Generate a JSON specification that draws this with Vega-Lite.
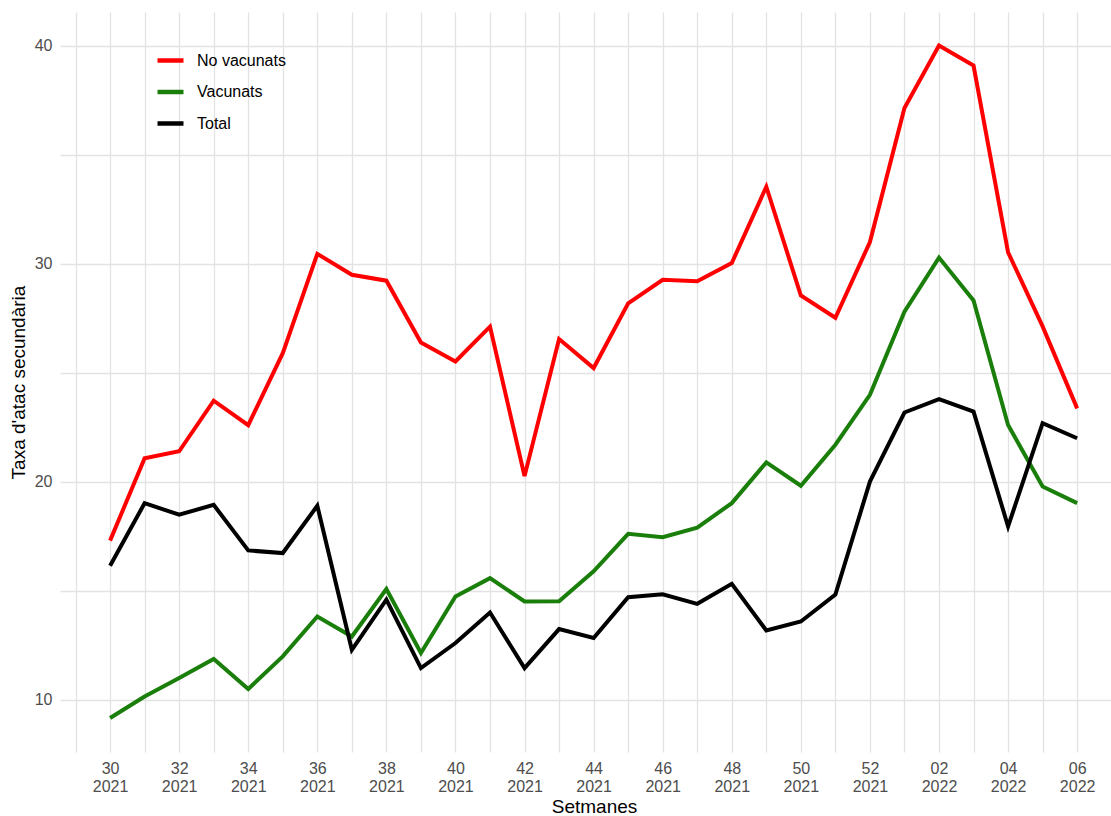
{
  "$schema": "https://vega.github.io/schema/vega-lite/v6.json",
  "autosize": {"type": "none"},
  "padding": {"left": 60, "top": 12, "right": 0, "bottom": 64},
  "width": 1051,
  "height": 740,
  "background": "white",
  "config": {
    "font": "Liberation Sans",
    "view": {"stroke": null},
    "axis": {"domain": false, "ticks": false, "gridColor": "#E3E3E3", "gridWidth": 1.3, "labelColor": "#4D4D4D", "labelFontSize": 16, "titleColor": "#000000", "titleFontSize": 19, "titleFontWeight": "normal"}
  },
  "data": {
    "values": [
      {"i": 0, "setmana": "30/2021", "grup": "No vacunats", "taxa": 17.3},
      {"i": 1, "setmana": "31/2021", "grup": "No vacunats", "taxa": 21.08},
      {"i": 2, "setmana": "32/2021", "grup": "No vacunats", "taxa": 21.4},
      {"i": 3, "setmana": "33/2021", "grup": "No vacunats", "taxa": 23.72},
      {"i": 4, "setmana": "34/2021", "grup": "No vacunats", "taxa": 22.6},
      {"i": 5, "setmana": "35/2021", "grup": "No vacunats", "taxa": 25.9},
      {"i": 6, "setmana": "36/2021", "grup": "No vacunats", "taxa": 30.46},
      {"i": 7, "setmana": "37/2021", "grup": "No vacunats", "taxa": 29.5},
      {"i": 8, "setmana": "38/2021", "grup": "No vacunats", "taxa": 29.23},
      {"i": 9, "setmana": "39/2021", "grup": "No vacunats", "taxa": 26.39},
      {"i": 10, "setmana": "40/2021", "grup": "No vacunats", "taxa": 25.52},
      {"i": 11, "setmana": "41/2021", "grup": "No vacunats", "taxa": 27.12},
      {"i": 12, "setmana": "42/2021", "grup": "No vacunats", "taxa": 20.26},
      {"i": 13, "setmana": "43/2021", "grup": "No vacunats", "taxa": 26.55},
      {"i": 14, "setmana": "44/2021", "grup": "No vacunats", "taxa": 25.22},
      {"i": 15, "setmana": "45/2021", "grup": "No vacunats", "taxa": 28.19},
      {"i": 16, "setmana": "46/2021", "grup": "No vacunats", "taxa": 29.27},
      {"i": 17, "setmana": "47/2021", "grup": "No vacunats", "taxa": 29.2},
      {"i": 18, "setmana": "48/2021", "grup": "No vacunats", "taxa": 30.04},
      {"i": 19, "setmana": "49/2021", "grup": "No vacunats", "taxa": 33.54},
      {"i": 20, "setmana": "50/2021", "grup": "No vacunats", "taxa": 28.55},
      {"i": 21, "setmana": "51/2021", "grup": "No vacunats", "taxa": 27.53},
      {"i": 22, "setmana": "52/2021", "grup": "No vacunats", "taxa": 31.0},
      {"i": 23, "setmana": "01/2022", "grup": "No vacunats", "taxa": 37.15},
      {"i": 24, "setmana": "02/2022", "grup": "No vacunats", "taxa": 40.02},
      {"i": 25, "setmana": "03/2022", "grup": "No vacunats", "taxa": 39.1},
      {"i": 26, "setmana": "04/2022", "grup": "No vacunats", "taxa": 30.53},
      {"i": 27, "setmana": "05/2022", "grup": "No vacunats", "taxa": 27.13},
      {"i": 28, "setmana": "06/2022", "grup": "No vacunats", "taxa": 23.37},
      {"i": 0, "setmana": "30/2021", "grup": "Vacunats", "taxa": 9.16},
      {"i": 1, "setmana": "31/2021", "grup": "Vacunats", "taxa": 10.15},
      {"i": 2, "setmana": "32/2021", "grup": "Vacunats", "taxa": 11.0},
      {"i": 3, "setmana": "33/2021", "grup": "Vacunats", "taxa": 11.87},
      {"i": 4, "setmana": "34/2021", "grup": "Vacunats", "taxa": 10.49},
      {"i": 5, "setmana": "35/2021", "grup": "Vacunats", "taxa": 11.99},
      {"i": 6, "setmana": "36/2021", "grup": "Vacunats", "taxa": 13.82},
      {"i": 7, "setmana": "37/2021", "grup": "Vacunats", "taxa": 12.9},
      {"i": 8, "setmana": "38/2021", "grup": "Vacunats", "taxa": 15.08},
      {"i": 9, "setmana": "39/2021", "grup": "Vacunats", "taxa": 12.14},
      {"i": 10, "setmana": "40/2021", "grup": "Vacunats", "taxa": 14.74},
      {"i": 11, "setmana": "41/2021", "grup": "Vacunats", "taxa": 15.58},
      {"i": 12, "setmana": "42/2021", "grup": "Vacunats", "taxa": 14.51},
      {"i": 13, "setmana": "43/2021", "grup": "Vacunats", "taxa": 14.52},
      {"i": 14, "setmana": "44/2021", "grup": "Vacunats", "taxa": 15.89},
      {"i": 15, "setmana": "45/2021", "grup": "Vacunats", "taxa": 17.61},
      {"i": 16, "setmana": "46/2021", "grup": "Vacunats", "taxa": 17.46},
      {"i": 17, "setmana": "47/2021", "grup": "Vacunats", "taxa": 17.9},
      {"i": 18, "setmana": "48/2021", "grup": "Vacunats", "taxa": 19.02},
      {"i": 19, "setmana": "49/2021", "grup": "Vacunats", "taxa": 20.89},
      {"i": 20, "setmana": "50/2021", "grup": "Vacunats", "taxa": 19.82},
      {"i": 21, "setmana": "51/2021", "grup": "Vacunats", "taxa": 21.7},
      {"i": 22, "setmana": "52/2021", "grup": "Vacunats", "taxa": 23.99},
      {"i": 23, "setmana": "01/2022", "grup": "Vacunats", "taxa": 27.81},
      {"i": 24, "setmana": "02/2022", "grup": "Vacunats", "taxa": 30.29},
      {"i": 25, "setmana": "03/2022", "grup": "Vacunats", "taxa": 28.32},
      {"i": 26, "setmana": "04/2022", "grup": "Vacunats", "taxa": 22.61},
      {"i": 27, "setmana": "05/2022", "grup": "Vacunats", "taxa": 19.78},
      {"i": 28, "setmana": "06/2022", "grup": "Vacunats", "taxa": 19.02},
      {"i": 0, "setmana": "30/2021", "grup": "Total", "taxa": 16.15},
      {"i": 1, "setmana": "31/2021", "grup": "Total", "taxa": 19.02},
      {"i": 2, "setmana": "32/2021", "grup": "Total", "taxa": 18.49},
      {"i": 3, "setmana": "33/2021", "grup": "Total", "taxa": 18.94},
      {"i": 4, "setmana": "34/2021", "grup": "Total", "taxa": 16.85},
      {"i": 5, "setmana": "35/2021", "grup": "Total", "taxa": 16.73},
      {"i": 6, "setmana": "36/2021", "grup": "Total", "taxa": 18.9},
      {"i": 7, "setmana": "37/2021", "grup": "Total", "taxa": 12.29},
      {"i": 8, "setmana": "38/2021", "grup": "Total", "taxa": 14.59},
      {"i": 9, "setmana": "39/2021", "grup": "Total", "taxa": 11.45},
      {"i": 10, "setmana": "40/2021", "grup": "Total", "taxa": 12.6},
      {"i": 11, "setmana": "41/2021", "grup": "Total", "taxa": 14.0},
      {"i": 12, "setmana": "42/2021", "grup": "Total", "taxa": 11.45},
      {"i": 13, "setmana": "43/2021", "grup": "Total", "taxa": 13.24},
      {"i": 14, "setmana": "44/2021", "grup": "Total", "taxa": 12.83},
      {"i": 15, "setmana": "45/2021", "grup": "Total", "taxa": 14.7},
      {"i": 16, "setmana": "46/2021", "grup": "Total", "taxa": 14.84},
      {"i": 17, "setmana": "47/2021", "grup": "Total", "taxa": 14.4},
      {"i": 18, "setmana": "48/2021", "grup": "Total", "taxa": 15.32},
      {"i": 19, "setmana": "49/2021", "grup": "Total", "taxa": 13.18},
      {"i": 20, "setmana": "50/2021", "grup": "Total", "taxa": 13.59},
      {"i": 21, "setmana": "51/2021", "grup": "Total", "taxa": 14.82},
      {"i": 22, "setmana": "52/2021", "grup": "Total", "taxa": 20.01},
      {"i": 23, "setmana": "01/2022", "grup": "Total", "taxa": 23.18},
      {"i": 24, "setmana": "02/2022", "grup": "Total", "taxa": 23.79},
      {"i": 25, "setmana": "03/2022", "grup": "Total", "taxa": 23.22},
      {"i": 26, "setmana": "04/2022", "grup": "Total", "taxa": 17.95},
      {"i": 27, "setmana": "05/2022", "grup": "Total", "taxa": 22.69},
      {"i": 28, "setmana": "06/2022", "grup": "Total", "taxa": 22.0}
    ]
  },
  "mark": {"type": "line", "strokeWidth": 4, "strokeJoin": "miter", "strokeCap": "butt"},
  "encoding": {
    "x": {
      "field": "i",
      "type": "quantitative",
      "scale": {"domain": [-1.45, 28.98], "nice": false, "zero": false},
      "axis": {
        "title": "Setmanes",
        "titleX": 534,
        "values": [-1, 0, 1, 2, 3, 4, 5, 6, 7, 8, 9, 10, 11, 12, 13, 14, 15, 16, 17, 18, 19, 20, 21, 22, 23, 24, 25, 26, 27, 28],
        "labelExpr": "datum.value >= 0 && datum.value % 2 == 0 ? (datum.value <= 22 ? [toString(30 + datum.value), '2021'] : ['0' + toString(datum.value - 22), '2022']) : ''",
        "labelPadding": 8,
        "labelLineHeight": 18,
        "labelFlush": false,
        "labelOverlap": false,
        "titlePadding": 3
      }
    },
    "y": {
      "field": "taxa",
      "type": "quantitative",
      "scale": {"domain": [7.6, 41.56], "nice": false, "zero": false},
      "axis": {
        "title": "Taxa d'atac secundària",
        "values": [10, 15, 20, 25, 30, 35, 40],
        "labelExpr": "datum.value % 10 == 0 ? datum.label : ''",
        "labelPadding": 8,
        "titlePadding": 6
      }
    },
    "color": {
      "field": "grup",
      "type": "nominal",
      "scale": {"domain": ["No vacunats", "Vacunats", "Total"], "range": ["#FF0000", "#1A7F0A", "#000000"]},
      "legend": {
        "title": null,
        "orient": "none",
        "legendX": 95,
        "legendY": 33,
        "symbolType": "stroke",
        "symbolSize": 676,
        "symbolStrokeWidth": 4.5,
        "labelFontSize": 16,
        "labelColor": "#000000",
        "labelOffset": 11,
        "rowPadding": 6.5
      }
    }
  }
}
